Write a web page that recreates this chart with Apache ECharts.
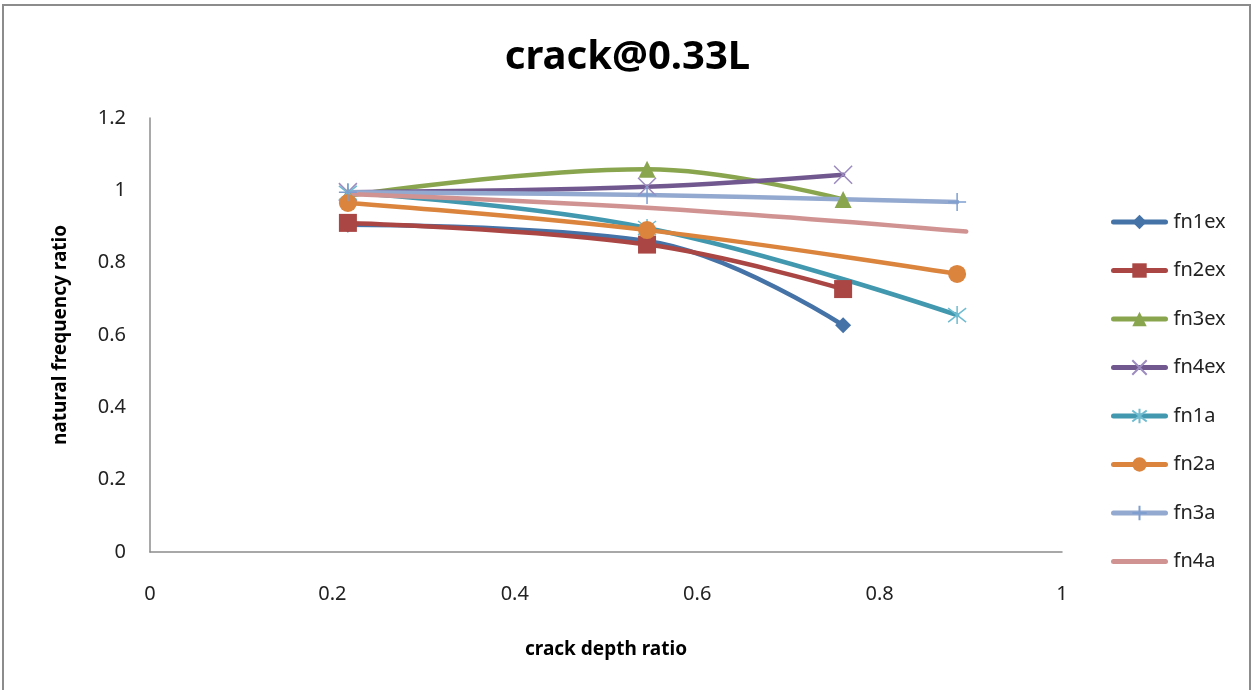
<!DOCTYPE html>
<html><head><meta charset="utf-8">
<script src="https://cdn.jsdelivr.net/npm/echarts@6/dist/echarts.min.js"></script>
<style>html,body{margin:0;padding:0;background:#fff}#c{width:1255px;height:690px}</style>
</head><body><div id="c"></div>
<script>
const seriesNames = ['fn1ex','fn2ex','fn3ex','fn4ex','fn1a','fn2a','fn3a','fn4a'];
const xEx = [0.217, 0.545, 0.76];
const xA = [0.217, 0.545, 0.885];
const xA4 = [0.217, 0.545, 0.895];
const fn1ex = [0.905, 0.86, 0.627];
const fn2ex = [0.91, 0.85, 0.727];
const fn3ex = [0.985, 1.058, 0.975];
const fn4ex = [0.995, 1.01, 1.043];
const fn1a = [0.993, 0.896, 0.655];
const fn2a = [0.965, 0.89, 0.769];
const fn3a = [0.995, 0.987, 0.968];
const fn4a = [0.99, 0.952, 0.886];
const yTicks = [0, 0.2, 0.4, 0.6, 0.8, 1, 1.2];
const xTicks = [0, 0.2, 0.4, 0.6, 0.8, 1];

const colors = ['#4572A7','#AA4643','#89A54E','#71588F','#4198AF','#DB843D','#93A9CF','#D19392'];
const markerColors = ['#4572A7','#AA4643','#89A54E','#9C8BBF','#6FBBD0','#DB843D','#7F9ED0','#D19392'];
const crossPath = 'path://M0,0L10,10M10,0L0,10';
const starPath = 'path://M0,0L10,10M10,0L0,10M5,-1.5L5,11.5';
const plusPath = 'path://M5,0L5,10M0,5L10,5';
const symbols = ['diamond','rect','triangle',crossPath,starPath,'circle',plusPath,'none'];
const sizes = [16,18,17,18,18,18,18,0];
const strokeOnly = [false,false,false,true,true,false,true,false];
const xs = [xEx,xEx,xEx,xEx,xA,xA,xA,xA4];
const ys = [fn1ex,fn2ex,fn3ex,fn4ex,fn1a,fn2a,fn3a,fn4a];

const font = 'Noto Sans';
const series = seriesNames.map((n,i)=>({
  name:n, type:'line', smooth:0.4,
  data: xs[i].map((x,j)=>[x, ys[i][j]]),
  symbol: symbols[i], symbolSize: sizes[i], showSymbol: symbols[i]!=='none',
  lineStyle:{color:colors[i], width:4.5, cap:'round'},
  itemStyle: strokeOnly[i] ? {color:'rgba(0,0,0,0)', borderColor:markerColors[i], borderWidth:1.5}
                           : {color:markerColors[i], borderWidth:0},
  emphasis:{disabled:true}
}));

const chart = echarts.init(document.getElementById('c'));
chart.setOption({
  animation:false,
  color: colors,
  title:{text:'crack@0.33L', left:'center', top:33,
    textStyle:{fontFamily:font, fontSize:40, fontWeight:'bold', color:'#000'}},
  graphic:[{type:'rect', shape:{x:3,y:5,width:1247,height:700},
    style:{fill:'none', stroke:'#8c8c8c', lineWidth:2}, silent:true}],
  grid:{left:150, right:193, top:118, bottom:138},
  legend:{orient:'vertical', left:1106, top:207, itemGap:28.5, itemWidth:52, itemHeight:18,
    lineStyle:{width:5},
    textStyle:{fontFamily:font, fontSize:20, color:'#222', padding:[0,0,0,3]},
    data: seriesNames.map(n => n==='fn4a' ? {name:n, itemStyle:{opacity:0}} : n)},
  xAxis:{type:'value', min:0, max:1, interval:0.2,
    name:'crack depth ratio', nameLocation:'middle', nameGap:88,
    nameTextStyle:{fontFamily:font, fontSize:19, fontWeight:'bold', color:'#000'},
    axisLine:{lineStyle:{color:'#8c8c8c', width:1.5}}, axisTick:{show:false},
    splitLine:{show:false},
    axisLabel:{fontFamily:font, fontSize:20, color:'#222', margin:32,
      formatter:v=>xTicks.includes(+v.toFixed(2)) ? String(+v.toFixed(2)) : ''}},
  yAxis:{type:'value', min:0, max:1.2, interval:0.2,
    name:'natural frequency ratio', nameLocation:'middle', nameGap:80,
    nameTextStyle:{fontFamily:font, fontSize:19, fontWeight:'bold', color:'#000'},
    axisLine:{show:true, lineStyle:{color:'#8c8c8c', width:1.5}}, axisTick:{show:false},
    splitLine:{show:false},
    axisLabel:{fontFamily:font, fontSize:20, color:'#222', margin:24,
      formatter:v=>yTicks.includes(+v.toFixed(2)) ? String(+v.toFixed(2)) : ''}},
  series: series
});
</script></body></html>
